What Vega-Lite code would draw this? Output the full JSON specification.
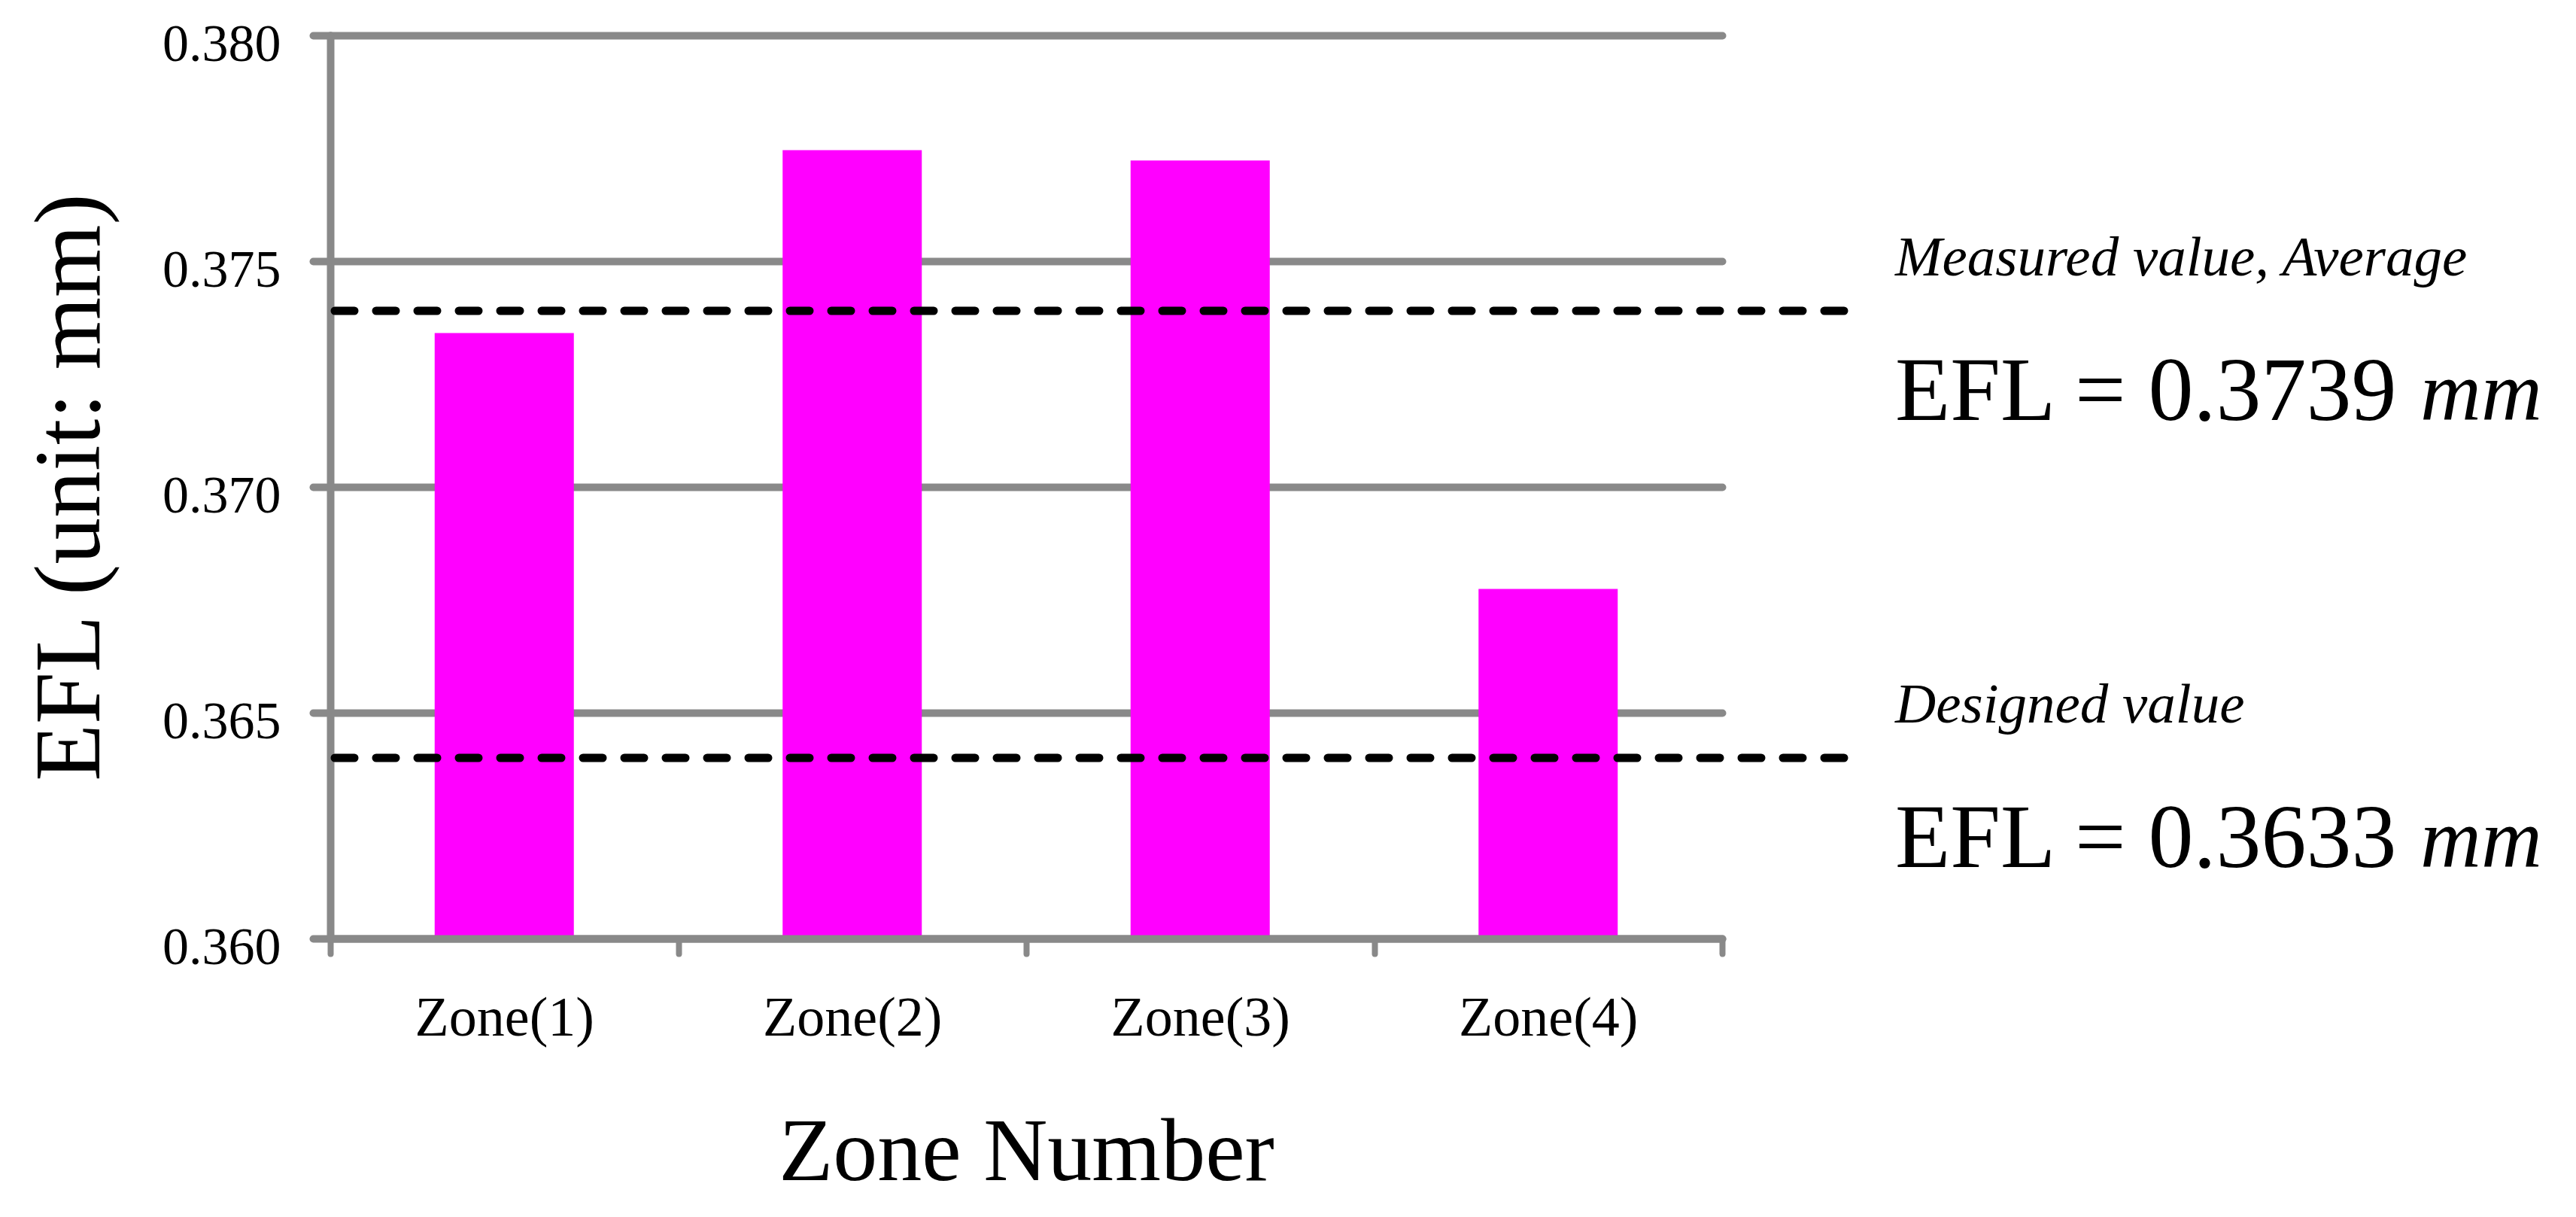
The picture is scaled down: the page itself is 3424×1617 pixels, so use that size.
{
  "$schema": "https://vega.github.io/schema/vega-lite/v6.json",
  "width": 1850,
  "height": 1200,
  "autosize": {"type": "none"},
  "padding": {"left": 439, "top": 47, "right": 1135, "bottom": 370},
  "background": "white",
  "config": {"view": {"stroke": null}, "font": "Liberation Serif"},
  "datasets": {
    "zones": [
      {"zone": "Zone(1)", "efl": 0.37341},
      {"zone": "Zone(2)", "efl": 0.37746},
      {"zone": "Zone(3)", "efl": 0.37723},
      {"zone": "Zone(4)", "efl": 0.36774}
    ],
    "refs": [
      {"caption": "Measured value, Average", "line": 0.3739, "label": "EFL = 0.3739", "unit": "mm"},
      {"caption": "Designed value", "line": 0.364, "label": "EFL = 0.3633", "unit": "mm"}
    ]
  },
  "layer": [
    {
      "data": {"name": "zones"},
      "mark": {"type": "bar", "color": "#FF00FF", "width": {"band": 0.4}},
      "encoding": {
        "x": {
          "field": "zone", "type": "nominal", "sort": null,
          "scale": {"paddingInner": 0, "paddingOuter": 0},
          "axis": {
            "title": "Zone Number", "titleFontSize": 118, "titleFontWeight": "normal", "titleColor": "black", "titlePadding": 84,
            "labelFontSize": 74, "labelColor": "black", "labelAngle": 0, "labelPadding": 50, "labelLimit": 0,
            "domainColor": "#898989", "domainWidth": 10, "domainCap": "round",
            "ticks": true, "tickBand": "extent", "tickSize": 20, "tickWidth": 8, "tickColor": "#898989", "tickCap": "round",
            "grid": false, "zindex": 1
          }
        },
        "y": {
          "field": "efl", "type": "quantitative",
          "scale": {"domain": [0.36, 0.38], "zero": false, "nice": false},
          "axis": {
            "title": "EFL (unit: mm)", "titleFontSize": 124, "titleFontWeight": "normal", "titleColor": "black", "titlePadding": 82,
            "values": [0.36, 0.365, 0.37, 0.375, 0.38], "format": ".3f",
            "labelFontSize": 70, "labelColor": "black", "labelPadding": 43, "labelOffset": 12,
            "domainColor": "#898989", "domainWidth": 10, "domainCap": "round",
            "tickSize": 23, "tickWidth": 10, "tickColor": "#898989", "tickCap": "round",
            "grid": true, "gridColor": "#898989", "gridWidth": 10, "gridCap": "round", "gridOpacity": 1,
            "zindex": 0
          }
        },
        "y2": {"datum": 0.36}
      }
    },
    {
      "data": {"name": "refs"},
      "mark": {"type": "rule", "color": "black", "strokeWidth": 11, "strokeDash": [26, 29], "strokeCap": "round", "x": 6, "x2": {"expr": "width + 179"}},
      "encoding": {"y": {"field": "line", "type": "quantitative"}}
    },
    {
      "data": {"name": "refs"},
      "mark": {"type": "text", "font": "Liberation Serif", "fontStyle": "italic", "fontSize": 75, "align": "left", "baseline": "alphabetic", "x": {"expr": "width + 230"}, "dy": -47, "color": "black"},
      "encoding": {"y": {"field": "line", "type": "quantitative"}, "text": {"field": "caption"}}
    },
    {
      "data": {"name": "refs"},
      "mark": {"type": "text", "font": "Liberation Serif", "fontSize": 120, "align": "left", "baseline": "alphabetic", "x": {"expr": "width + 230"}, "dy": 145, "color": "black"},
      "encoding": {"y": {"field": "line", "type": "quantitative"}, "text": {"field": "label"}}
    },
    {
      "data": {"name": "refs"},
      "mark": {"type": "text", "font": "Liberation Serif", "fontStyle": "italic", "fontSize": 112, "align": "left", "baseline": "alphabetic", "x": {"expr": "width + 928"}, "dy": 145, "color": "black"},
      "encoding": {"y": {"field": "line", "type": "quantitative"}, "text": {"field": "unit"}}
    }
  ]
}
